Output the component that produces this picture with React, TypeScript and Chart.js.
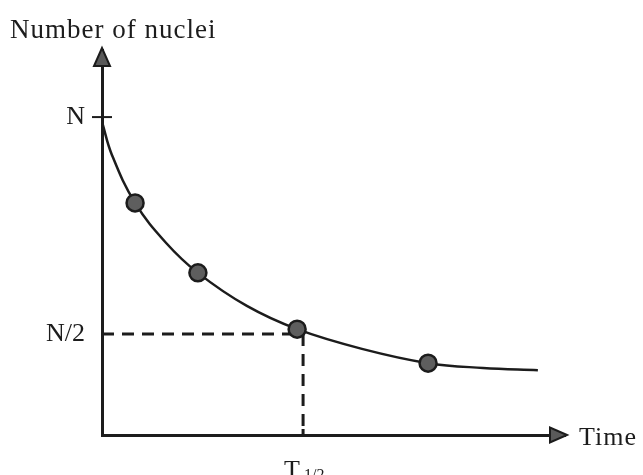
import { useEffect, useRef } from 'react';
import { Chart, registerables } from 'chart.js';

Chart.register(...registerables);

// Smooth decay curve (time units, nuclei with N = 100)
const curveTime = [0, 0.15, 0.5, 0.97, 1.45, 2.19, 2.95, 3.93, 4.93, 5.76, 6.59];
const curveNuclei = [98.5, 88.1, 73.0, 60.4, 51.0, 40.6, 33.3, 27.1, 22.6, 21.1, 20.4];

// Marked points on the curve
const pointTime = [0.5, 1.45, 2.95, 4.93];
const pointNuclei = [73.0, 51.0, 33.3, 22.6];

// Axis ticks
const yTickValues = [100, 31.8];
const yTickLabels = ['N', 'N/2'];
const halfLife = 3.04;
const halfLevel = 31.8;
const nLevel = 100;
const xMax = 7;
const yMax = 121.1;

const yTitle = 'Number of nuclei';
const xTitle = 'Time';
const halfLifeMain = 'T';
const halfLifeSub = '1/2';

const INK = '#1c1c1c';
const FONT = "'Liberation Serif', 'Times New Roman', serif";

export default function App() {
  const canvasRef = useRef<HTMLCanvasElement | null>(null);

  useEffect(() => {
    const canvas = canvasRef.current;
    if (!canvas) return;

    const decorations = {
      id: 'decorations',
      afterDraw(chart: any) {
        const { ctx, chartArea, scales } = chart;
        const xs = scales.x;
        const ys = scales.y;
        const left = chartArea.left;
        const bottom = chartArea.bottom;
        ctx.save();
        ctx.strokeStyle = INK;
        ctx.fillStyle = '#5a5a5a';
        ctx.lineWidth = 2;
        ctx.lineJoin = 'miter';

        // y-axis arrow head
        const topY = chartArea.top - 2;
        ctx.beginPath();
        ctx.moveTo(left, topY);
        ctx.lineTo(left - 8, topY + 18);
        ctx.lineTo(left + 8, topY + 18);
        ctx.closePath();
        ctx.fill();
        ctx.stroke();

        // x-axis arrow head
        const tipX = chartArea.right + 2;
        ctx.beginPath();
        ctx.moveTo(tipX, bottom);
        ctx.lineTo(tipX - 17, bottom - 7.5);
        ctx.lineTo(tipX - 17, bottom + 7.5);
        ctx.closePath();
        ctx.fill();
        ctx.stroke();

        // N tick crossing the axis
        const yN = ys.getPixelForValue(nLevel);
        ctx.lineWidth = 2;
        ctx.beginPath();
        ctx.moveTo(left - 10, yN);
        ctx.lineTo(left + 10, yN);
        ctx.stroke();

        // small solid tick at T1/2 on the x-axis
        const xT = xs.getPixelForValue(halfLife);
        ctx.lineWidth = 3;
        ctx.beginPath();
        ctx.moveTo(xT, bottom - 6);
        ctx.lineTo(xT, bottom);
        ctx.stroke();

        // texts
        ctx.fillStyle = INK;
        ctx.textAlign = 'left';
        ctx.textBaseline = 'alphabetic';
        ctx.font = `27px ${FONT}`;
        (ctx as any).letterSpacing = '1px';
        ctx.fillText(yTitle, 10, 38);

        ctx.textBaseline = 'middle';
        ctx.font = `26px ${FONT}`;
        (ctx as any).letterSpacing = '1px';
        ctx.fillText(xTitle, tipX + 12, bottom + 3);

        ctx.textBaseline = 'alphabetic';
        (ctx as any).letterSpacing = '0px';
        ctx.font = `26px ${FONT}`;
        ctx.fillText(halfLifeMain, xT - 19, 478);
        ctx.font = `16px ${FONT}`;
        ctx.fillText(halfLifeSub, xT + 1, 480);
        ctx.restore();
      },
    };

    const chart = new Chart(canvas, {
      type: 'scatter',
      data: {
        datasets: [
          {
            label: 'points',
            data: pointTime.map((t, i) => ({ x: t, y: pointNuclei[i] })),
            showLine: false,
            pointRadius: 8.5,
            pointHoverRadius: 8.5,
            pointBackgroundColor: '#5e5e5e',
            pointBorderColor: INK,
            pointBorderWidth: 2.5,
            order: 0,
          },
          {
            label: 'decay',
            data: curveTime.map((t, i) => ({ x: t, y: curveNuclei[i] })),
            showLine: true,
            borderColor: INK,
            borderWidth: 2.5,
            pointRadius: 0,
            tension: 0.4,
            order: 1,
          },
          {
            label: 'half-level',
            data: [
              { x: 0, y: halfLevel },
              { x: halfLife, y: halfLevel },
            ],
            showLine: true,
            borderColor: INK,
            borderWidth: 3,
            borderDash: [12, 8],
            pointRadius: 0,
            order: 2,
          },
          {
            label: 'half-time',
            data: [
              { x: halfLife, y: halfLevel },
              { x: halfLife, y: 0 },
            ],
            showLine: true,
            borderColor: INK,
            borderWidth: 3,
            borderDash: [12, 8],
            pointRadius: 0,
            order: 2,
          },
        ],
      },
      options: {
        responsive: false,
        animation: false,
        events: [],
        layout: { padding: { top: 50, right: 78, bottom: 0, left: 0 } },
        plugins: {
          legend: { display: false },
          tooltip: { enabled: false },
          title: { display: false },
        },
        scales: {
          x: {
            type: 'linear',
            min: 0,
            max: xMax,
            grid: { display: false, drawTicks: false },
            border: { display: true, color: INK, width: 3 },
            ticks: { display: false },
            afterFit: (s: any) => {
              s.height = 40;
            },
          },
          y: {
            type: 'linear',
            min: 0,
            max: yMax,
            position: 'left',
            grid: { display: false, drawTicks: false },
            border: { display: true, color: INK, width: 3 },
            afterBuildTicks: (s: any) => {
              s.ticks = yTickValues.map((v) => ({ value: v }));
            },
            ticks: {
              padding: 17,
              color: INK,
              font: { family: FONT, size: 26 },
              callback: (v: any) => {
                const i = yTickValues.indexOf(Number(v));
                return i >= 0 ? yTickLabels[i] : '';
              },
            },
            afterFit: (s: any) => {
              s.width = 102;
            },
          },
        },
      },
      plugins: [decorations],
    });

    return () => chart.destroy();
  }, []);

  return (
    <div style={{ position: 'fixed', left: 0, top: 0, width: 643, height: 475, background: '#fff' }}>
      <canvas ref={canvasRef} width={643} height={475} style={{ display: 'block' }} />
    </div>
  );
}
